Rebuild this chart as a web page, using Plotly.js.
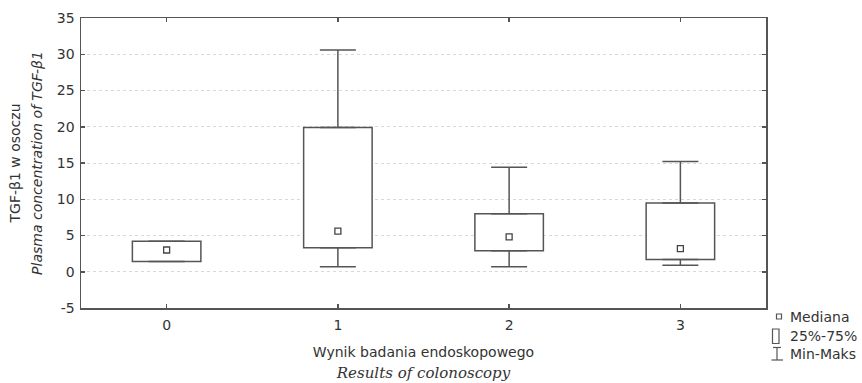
<!DOCTYPE html>
<html>
<head>
<meta charset="utf-8">
<script src="https://cdn.plot.ly/plotly-3.0.1.min.js"></script>
<style>html,body{margin:0;padding:0;background:#fff;}#chart{width:862px;height:383px;}</style>
</head>
<body>
<div id="chart"></div>
<script>
// Data
var categories = [0, 1, 2, 3];
var tickLabels = ['0', '1', '2', '3'];
var minVals    = [1.4, 0.7, 0.7, 0.9];
var q1Vals     = [1.4, 3.3, 2.9, 1.7];
var medianVals = [3.0, 5.6, 4.8, 3.2];
var q3Vals     = [4.2, 19.9, 8.0, 9.5];
var maxVals    = [4.2, 30.6, 14.4, 15.2];
var yTicks     = [-5, 0, 5, 10, 15, 20, 25, 30, 35];
var yTickText  = ['-5', '0', '5', '10', '15', '20', '25', '30', '35'];

var frame = '#555555';
var font = 'DejaVu Sans, Verdana, sans-serif';

var boxHeights = q3Vals.map(function (v, i) { return v - q1Vals[i]; });
var upperLen = maxVals.map(function (v, i) { return v - q3Vals[i]; });
var lowerLen = q1Vals.map(function (v, i) { return v - minVals[i]; });
var zeros = categories.map(function () { return 0; });

var traces = [
  {
    type: 'bar', x: categories, y: boxHeights, base: q1Vals, width: 0.4,
    marker: { color: '#ffffff', line: { color: frame, width: 1.5 } },
    showlegend: false, hoverinfo: 'skip'
  },
  {
    type: 'scatter', mode: 'markers', x: categories, y: q3Vals,
    marker: { size: 1, opacity: 0 },
    error_y: { type: 'data', symmetric: false, array: upperLen, arrayminus: zeros,
               color: frame, thickness: 1.5, width: 18 },
    showlegend: false, hoverinfo: 'skip'
  },
  {
    type: 'scatter', mode: 'markers', x: categories, y: q1Vals,
    marker: { size: 1, opacity: 0 },
    error_y: { type: 'data', symmetric: false, array: zeros, arrayminus: lowerLen,
               color: frame, thickness: 1.5, width: 18 },
    showlegend: false, hoverinfo: 'skip'
  },
  {
    type: 'scatter', mode: 'markers', x: categories, y: medianVals,
    marker: { symbol: 'square-open', size: 6, color: '#444444', line: { width: 1.3 } },
    showlegend: false
  }
];

function px(x) { return (x - 81) / 685; }
function py(y) { return (308 - y) / 290; }

var shapes = [
  // legend icons
  { type: 'rect', xref: 'paper', yref: 'paper', x0: px(776.5), x1: px(781.5), y0: py(314), y1: py(319),
    line: { color: frame, width: 1.2 }, fillcolor: '#fff' },
  { type: 'rect', xref: 'paper', yref: 'paper', x0: px(772.5), x1: px(779), y0: py(329), y1: py(343.5),
    line: { color: frame, width: 1.2 }, fillcolor: '#fff' },
  { type: 'line', xref: 'paper', yref: 'paper', x0: px(773), x1: px(781), y0: py(347.5), y1: py(347.5),
    line: { color: frame, width: 1.2 } },
  { type: 'line', xref: 'paper', yref: 'paper', x0: px(777), x1: px(777), y0: py(347.5), y1: py(360),
    line: { color: frame, width: 1.2 } },
  { type: 'line', xref: 'paper', yref: 'paper', x0: px(771.5), x1: px(783), y0: py(360), y1: py(360),
    line: { color: frame, width: 1.2 } }
];

var legendLabels = ['Mediana', '25%-75%', 'Min-Maks'];
var legendY = [316.7, 336, 354];
var annotations = legendLabels.map(function (t, i) {
  return { xref: 'paper', yref: 'paper', x: px(788), y: py(legendY[i]), xanchor: 'left', yanchor: 'middle',
           text: t, showarrow: false, font: { family: font, size: 14, color: '#333' } };
});

var layout = {
  width: 862, height: 383,
  margin: { l: 81, r: 96, t: 18, b: 75 },
  paper_bgcolor: '#fff', plot_bgcolor: '#fff',
  font: { family: font, size: 13, color: '#333' },
  showlegend: false,
  xaxis: {
    range: [-0.5, 3.5], tickvals: categories, ticktext: tickLabels,
    showline: true, linecolor: frame, linewidth: 1.5, mirror: 'ticks',
    ticks: 'inside', ticklen: 4, tickcolor: frame, tickwidth: 1.5,
    showgrid: false, zeroline: false, ticklabelstandoff: 4,
    tickfont: { family: font, size: 14, color: '#333' },
    title: {
      text: '<span style="font-size:14px">Wynik badania endoskopowego</span><br><span style="font-family:\'DejaVu Serif\',serif;font-style:italic;font-size:15px">Results of colonoscopy</span>',
      font: { family: font, size: 15.5, color: '#333' }, standoff: 14
    }
  },
  yaxis: {
    range: [-5, 35], tickvals: yTicks, ticktext: yTickText,
    showline: true, linecolor: frame, linewidth: 1.5, mirror: 'ticks',
    ticks: 'inside', ticklen: 4, tickcolor: frame, tickwidth: 1.5,
    showgrid: true, gridcolor: '#d8d8d8', griddash: 'dot', gridwidth: 1,
    zeroline: false, ticklabelstandoff: 2,
    tickfont: { family: font, size: 14, color: '#333' },
    title: {
      text: '<span style="font-size:14px">TGF-β1 w osoczu</span><br><i style="font-size:14px">Plasma concentration of TGF-β1</i>',
      font: { family: font, size: 16.5, color: '#333' }, standoff: 10
    }
  },
  shapes: shapes,
  annotations: annotations
};

Plotly.newPlot('chart', traces, layout, { displayModeBar: false, staticPlot: true });
</script>
</body>
</html>
